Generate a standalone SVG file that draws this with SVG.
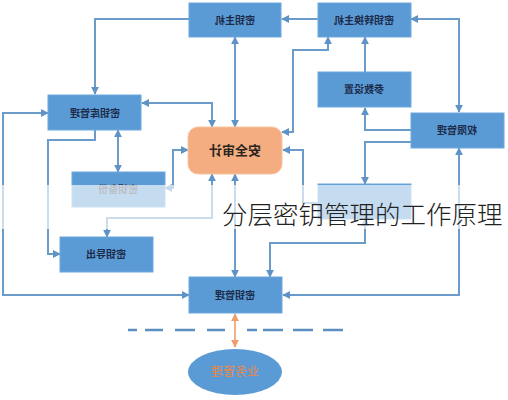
<svg xmlns="http://www.w3.org/2000/svg" width="508" height="400" viewBox="0 0 508 400">
<style>
.box{fill:#5b9bd5;stroke:#6ea8dc;stroke-width:1}
.t{font-family:"Noto Sans CJK SC","Noto Sans",sans-serif;font-weight:bold;font-size:10px;fill:#1c2b4a;text-anchor:middle}
.c{fill:none;stroke:#6a9bcb;stroke-width:2;stroke-linejoin:miter}
.e{marker-end:url(#a)}
.b{marker-start:url(#a);marker-end:url(#a)}
</style>
<defs>
<marker id="a" viewBox="0 0 10 10" refX="9" refY="5" markerWidth="8" markerHeight="8" markerUnits="userSpaceOnUse" orient="auto-start-reverse"><path d="M0,0 L10,5 L0,10 z" fill="#5f93c6"/></marker>
<marker id="o" viewBox="0 0 10 10" refX="9" refY="5" markerWidth="8" markerHeight="8" markerUnits="userSpaceOnUse" orient="auto-start-reverse"><path d="M0,0 L10,5 L0,10 z" fill="#ef9d6a"/></marker>
</defs>
<rect width="508" height="400" fill="#ffffff"/>
<g id="connectors">
<path class="c e" d="M190,19 H95 V94"/>
<path class="c e" d="M318,19 H282"/>
<path class="c b" d="M411,19 H459 V112"/>
<path class="c b" d="M235,37 V127"/>
<path class="c b" d="M282,132 H293 V50 H328 V37"/>
<path class="c e" d="M365,72 V37"/>
<path class="c e" d="M411,130 H365 V108"/>
<path class="c e" d="M411,142 H365 V184"/>
<path class="c b" d="M283,295 H459 V148"/>
<path class="c b" d="M365,219 V243 H270 V277"/>
<path class="c e" d="M318,203 H303 V150 H283"/>
<path class="c b" d="M142,103 H212 V127"/>
<path class="c b" d="M165,188 H173 V150 H188"/>
<path class="c b" d="M212,174 V218 H107 V237"/>
<path class="c b" d="M235,174 V277"/>
<path class="c b" d="M118,130 V172"/>
<path class="c e" d="M95,130 V140 H48 V254 H60"/>
<path class="c b" d="M48,113 H3 V295 H189"/>
<path fill="none" stroke="#ef9d6a" stroke-width="1.6" marker-start="url(#o)" marker-end="url(#o)" d="M235,314 V347"/>
<path fill="none" stroke="#5b8fc0" stroke-width="2.5" d="M128,330 H137 M145,330 H163 M175,330 H195 M207,330 H225 M247,330 H257 M263,330 H283 M293,330 H313 M323,330 H343"/>
</g>
<g id="n1"><rect class="box" x="189" y="3" width="92" height="34"/><text class="t" transform="translate(235,24) scale(-1,1)">密钥主机</text></g>
<g id="n2"><rect class="box" x="318" y="3" width="93" height="34"/><text class="t" transform="translate(364,24) scale(-1,1)">密钥转换主机</text></g>
<g id="n3"><rect class="box" x="48" y="95" width="93" height="35"/><text class="t" transform="translate(95,117) scale(-1,1)">密钥库管理</text></g>
<g id="n4"><rect x="188" y="127" width="94" height="47" rx="10" fill="#f4ad80" stroke="#f7c4a2" stroke-width="1"/><text class="t" style="font-size:13px;fill:#2b2520" transform="translate(235,155) scale(-1,1)">安全审计</text></g>
<g id="n5"><rect class="box" x="318" y="72" width="93" height="35"/><text class="t" transform="translate(364,93) scale(-1,1)">参数设置</text></g>
<g id="n6"><rect class="box" x="411" y="113" width="93" height="35"/><text class="t" transform="translate(457,134) scale(-1,1)">权限管理</text></g>
<g id="n7"><rect class="box" x="72" y="172" width="93" height="35"/><text class="t" style="fill:#3a4660" transform="translate(118,193) scale(-1,1)">密钥备份</text></g>
<g id="n8"><rect class="box" x="318" y="184" width="93" height="35"/></g>
<g id="n9"><rect class="box" x="60" y="237" width="93" height="35"/><text class="t" transform="translate(106,258) scale(-1,1)">密钥导出</text></g>
<g id="n10"><rect class="box" x="189" y="277" width="93" height="36"/><text class="t" transform="translate(235,299) scale(-1,1)">密钥管理</text></g>
<g id="n11"><ellipse cx="235" cy="372" rx="47" ry="23" fill="#5b9bd5"/><text class="t" style="font-size:12px;font-weight:normal;fill:#e8894a" transform="translate(235,376) scale(-1,1)">业务管理</text></g>
<rect x="0" y="185" width="508" height="44" fill="#ffffff" fill-opacity="0.65"/>
<text x="222" y="224" font-family="'Noto Sans CJK SC','Noto Sans',sans-serif" font-weight="300" font-size="25.5" fill="#222222">分层密钥管理的工作原理</text>
</svg>
